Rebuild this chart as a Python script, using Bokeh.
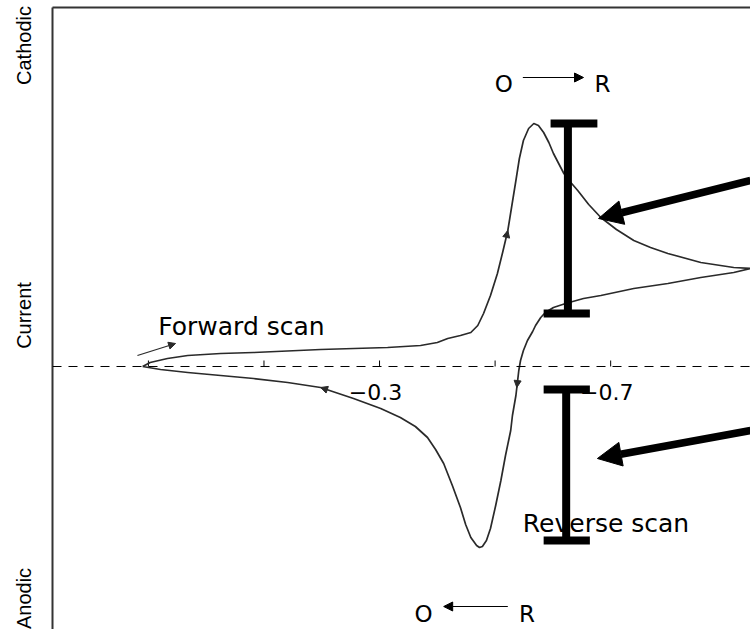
from bokeh.plotting import figure
from bokeh.models import Range1d, LinearAxis, FixedTicker, Span, Arrow, NormalHead
from bokeh.core.properties import value
from bokeh.embed import file_html
from bokeh.resources import INLINE

# Forward (cathodic) sweep: potential in V, current in arbitrary units
E_fwd = [0.110, 0.097, 0.067, 0.032, -0.025, -0.082, -0.198, -0.314, -0.371, -0.400,
         -0.418, -0.440, -0.458, -0.470, -0.480, -0.492, -0.504, -0.513, -0.522, -0.529,
         -0.536, -0.542, -0.549, -0.558, -0.567, -0.575, -0.584, -0.593, -0.601, -0.610,
         -0.619, -0.631, -0.643, -0.662, -0.683, -0.710, -0.740, -0.769, -0.799, -0.856,
         -0.913, -0.942]
i_fwd = [0.0, 0.4, 0.8, 1.1, 1.3, 1.4, 1.7, 1.9, 2.1, 2.4,
         2.8, 3.1, 3.4, 4.1, 5.3, 7.1, 9.3, 11.4, 13.6, 16.1,
         18.6, 20.8, 22.6, 23.8, 24.3, 24.1, 23.4, 22.4, 21.3, 20.3,
         19.3, 18.4, 17.6, 16.2, 14.9, 13.7, 12.6, 11.9, 11.3, 10.4,
         9.9, 9.8]

# Reverse (anodic) sweep back to the starting potential
E_rev = [-0.942, -0.913, -0.856, -0.799, -0.740, -0.683, -0.653, -0.622, -0.601, -0.587,
         -0.579, -0.570, -0.565, -0.556, -0.549, -0.544, -0.541, -0.539, -0.536, -0.530,
         -0.527, -0.518, -0.510, -0.501, -0.492, -0.485, -0.478, -0.473, -0.468, -0.458,
         -0.449, -0.440, -0.426, -0.411, -0.397, -0.383, -0.362, -0.336, -0.302, -0.255,
         -0.198, -0.141, -0.082, -0.025, 0.032, 0.079, 0.110]
i_rev = [9.8, 9.4, 8.9, 8.3, 7.8, 7.1, 6.8, 6.3, 5.9, 5.4,
         4.9, 4.1, 3.5, 2.6, 1.6, 0.6, -0.4, -1.4, -2.9, -4.9,
         -6.4, -8.9, -11.4, -13.9, -16.2, -17.4, -18.0, -18.1, -17.9, -17.1,
         -15.8, -14.1, -11.9, -9.7, -8.3, -7.1, -6.0, -5.1, -4.2, -3.2,
         -2.1, -1.6, -1.2, -0.9, -0.6, -0.3, 0.0]

# Potential ticks on the zero-current line and their printed labels
x_ticks = [0.1, -0.1, -0.3, -0.5, -0.7]
x_tick_labels = ["", "", "\u22120.3", "", "\u22120.7"]

# Words along the current axis
y_label_pos = [32.1, 5.1, -23.2]
y_labels = ["Cathodic", "Current", "Anodic"]

# Peak-height bars: baseline currents below/above each peak
ipc_base = 5.3
ipa_top = -2.3
ipa_bottom = -17.4

INK = "#2a2a2a"
SANS = value("DejaVu Sans")

p = figure(width=750, height=629,
           x_range=Range1d(0.266, -0.942), y_range=Range1d(-26.3, 35.9),
           x_axis_type=None, y_axis_type=None,
           toolbar_location=None, output_backend="svg",
           min_border_left=52, min_border_top=7, min_border_right=0, min_border_bottom=0,
           outline_line_color=None, background_fill_color="white", border_fill_color="white")

# Left border carrying the vertical words
yax = LinearAxis(ticker=FixedTicker(ticks=y_label_pos),
                 major_label_overrides={v: t for v, t in zip(y_label_pos, y_labels)},
                 major_tick_in=0, major_tick_out=0, minor_tick_in=0, minor_tick_out=0,
                 major_label_orientation="vertical", major_label_standoff=18,
                 major_label_text_font="Liberation Sans",
                 major_label_text_font_size="20px", major_label_text_color="black",
                 axis_line_color="#333333", axis_line_width=2)
p.add_layout(yax, "left")

# Top border
top = LinearAxis(ticker=FixedTicker(ticks=[]),
                 major_tick_in=0, major_tick_out=0, minor_tick_in=0, minor_tick_out=0,
                 major_label_text_font_size="0px", major_label_standoff=0,
                 axis_line_color="#333333", axis_line_width=2)
p.add_layout(top, "above")

# Zero-current line with upward ticks
p.add_layout(Span(location=0, dimension="width", line_color="black",
                  line_width=1.2, line_dash="9 7"))
tick_len = 0.6
p.segment(x0=x_ticks, y0=[0] * len(x_ticks), x1=x_ticks, y1=[tick_len] * len(x_ticks),
          line_color="black", line_width=1)
lab_x = [x for x, t in zip(x_ticks, x_tick_labels) if t]
lab_t = [t for t in x_tick_labels if t]
p.text(x=lab_x, y=[0] * len(lab_x), text=lab_t, text_font=SANS, text_font_size="22px",
       text_align="center", text_baseline="alphabetic", x_offset=-4, y_offset=25,
       text_color="black")

# Sweep text labels
p.text(x=[0.083], y=[4.0], text=["Forward scan"], text_font=SANS, text_font_size="25px",
       text_align="left", text_baseline="alphabetic", text_color="black")
p.text(x=[-0.548], y=[-15.7], text=["Reverse scan"], text_font=SANS, text_font_size="25px",
       text_align="left", text_baseline="alphabetic", text_color="black")

# Voltammogram
p.line(E_fwd + E_rev, i_fwd + i_rev, line_color=INK, line_width=1.7, line_join="round")

# O -> R (reduction, top) and O <- R (oxidation, bottom)
p.text(x=[-0.515, -0.686], y=[28.3, 28.3], text=["O", "R"], text_font=SANS,
       text_font_size="23px", text_align="center", text_baseline="alphabetic", text_color="black")
p.add_layout(Arrow(end=NormalHead(size=9, fill_color="black", line_color="black", line_width=1),
                   x_start=-0.548, y_start=28.9, x_end=-0.653, y_end=28.9,
                   line_color="black", line_width=1.2))
p.text(x=[-0.376, -0.555], y=[-24.7, -24.7], text=["O", "R"], text_font=SANS,
       text_font_size="23px", text_align="center", text_baseline="alphabetic", text_color="black")
p.add_layout(Arrow(end=NormalHead(size=9, fill_color="black", line_color="black", line_width=1),
                   x_start=-0.522, y_start=-24.0, x_end=-0.411, y_end=-24.0,
                   line_color="black", line_width=1.2))

# Peak-height bars
ipc_top = max(i_fwd)
p.segment(x0=[-0.626, -0.596, -0.584], y0=[ipc_top, ipc_top, ipc_base],
          x1=[-0.626, -0.677, -0.664], y1=[ipc_base, ipc_top, ipc_base],
          line_color="black", line_width=8, line_cap="butt")
p.segment(x0=[-0.623, -0.584, -0.584], y0=[ipa_top, ipa_top, ipa_bottom],
          x1=[-0.623, -0.664, -0.664], y1=[ipa_bottom, ipa_top, ipa_bottom],
          line_color="black", line_width=8, line_cap="butt")

# Pointers at the two bars
for ys, xe, ye in [(18.6, -0.679, 14.8), (-6.4, -0.677, -9.2)]:
    p.add_layout(Arrow(end=NormalHead(size=24, fill_color="black", line_color="black", line_width=1),
                       x_start=-0.942, y_start=ys, x_end=xe, y_end=ye,
                       line_color="black", line_width=7.5))


def along(E, I, k, t=1.0):
    return E[k] + t * (E[k + 1] - E[k]), I[k] + t * (I[k + 1] - I[k])


# Small direction arrowheads on the sweep
for E, I, k, t in [(E_fwd, i_fwd, 17, 1.0), (E_rev, i_rev, 17, 0.47), (E_rev, i_rev, 39, 1.0)]:
    x0, y0 = along(E, I, k, 0.0)
    x1, y1 = along(E, I, k, t)
    p.add_layout(Arrow(end=NormalHead(size=7, fill_color=INK, line_color=INK, line_width=1),
                       x_start=x0, y_start=y0, x_end=x1, y_end=y1, line_alpha=0))

# Start-of-scan arrow
p.add_layout(Arrow(end=NormalHead(size=7, fill_color=INK, line_color=INK, line_width=1),
                   x_start=0.119, y_start=1.1, x_end=0.053, y_end=2.3,
                   line_color=INK, line_width=1.3))

open("out.html", "w").write(file_html(p, INLINE))
